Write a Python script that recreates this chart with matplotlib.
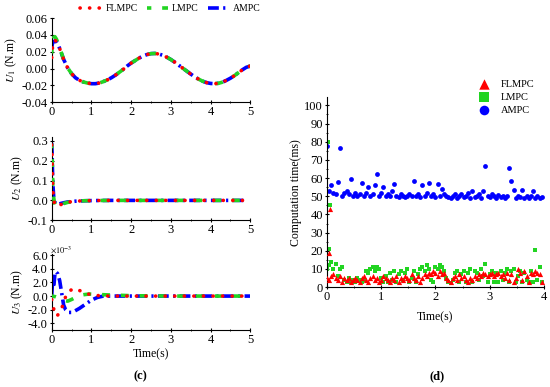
import numpy as np
import matplotlib.pyplot as plt
from matplotlib.lines import Line2D
from matplotlib.ticker import MultipleLocator, FormatStrFormatter

plt.rcParams['font.family'] = ['Liberation Serif', 'DejaVu Serif']
plt.rcParams['mathtext.fontset'] = 'stix'

RED = '#ff0000'
GREEN = '#22d422'
BLUE = '#0000ff'

# ---- panel (c) data ----
# U1: per-series start, shared tail
u1_t_start = [0.0, 0.02, 0.05, 0.08, 0.12, 0.16, 0.2]
u1_fl_start = [0.013, 0.025, 0.032, 0.034, 0.032, 0.028, 0.024]
u1_l_start = [0.018, 0.030, 0.037, 0.038, 0.035, 0.030, 0.025]
u1_a_start = [0.025, 0.030, 0.032, 0.033, 0.032, 0.029, 0.024]
u1_t_tail = [0.3, 0.4, 0.5, 0.6, 0.7, 0.8, 0.9, 1.0, 1.1, 1.2, 1.3, 1.4, 1.5,
             1.6, 1.7, 1.8, 1.9, 2.0, 2.1, 2.2, 2.3, 2.4, 2.5, 2.6, 2.7, 2.8,
             2.9, 3.0, 3.1, 3.2, 3.3, 3.4, 3.5, 3.6, 3.7, 3.8, 3.9, 4.0, 4.1,
             4.2, 4.3, 4.4, 4.5, 4.6, 4.7, 4.8, 4.9, 5.0]
u1_tail = [0.011, 0.001, -0.006, -0.011, -0.014, -0.016, -0.0172, -0.018,
           -0.018, -0.0172, -0.0155, -0.0135, -0.011, -0.008, -0.0045, -0.001,
           0.003, 0.0065, 0.0095, 0.0125, 0.015, 0.0167, 0.0178, 0.018, 0.0173,
           0.0158, 0.0135, 0.0108, 0.0076, 0.004, 0.0005, -0.003, -0.0065,
           -0.0098, -0.0126, -0.015, -0.0167, -0.0177, -0.018, -0.0175, -0.0162,
           -0.014, -0.0115, -0.0085, -0.005, -0.0015, 0.0015, 0.003]

# U2
u2_t = [0.0, 0.01, 0.02, 0.03, 0.05, 0.07, 0.1, 0.15, 0.2, 0.3, 0.4, 0.6,
        0.8, 1.0, 1.5, 2.0, 2.5, 3.0, 3.5, 4.0, 4.5, 4.9]
u2_fl = [0.28, 0.22, 0.12, 0.05, 0.01, -0.015, -0.026, -0.03, -0.024, -0.015,
         -0.009, -0.004, -0.002, -0.001, 0, 0, 0, 0, 0, 0, 0, 0]
u2_l = [0.285, 0.23, 0.14, 0.06, 0.015, -0.012, -0.03, -0.035, -0.028, -0.016,
        -0.01, -0.004, -0.002, -0.001, 0, 0, 0, 0, 0, 0, 0, 0]
u2_a = [0.29, 0.24, 0.15, 0.08, 0.02, -0.005, -0.015, -0.02, -0.017, -0.012,
        -0.008, -0.004, -0.002, -0.001, 0, 0, 0, 0, 0, 0, 0, 0]

# U3 (x1e-3)
u3_fl_t = [0.0, 0.03, 0.06, 0.1, 0.15, 0.2, 0.25, 0.3, 0.35, 0.45, 0.58, 0.75,
           0.95, 1.2, 1.5, 2.0, 3.0, 4.0, 5.0]
u3_fl = [-0.5, -1.1, -2.2, -2.9, -2.8, -2.4, -1.8, -1.0, -0.1, 0.8, 1.1, 0.7,
         0.25, 0.05, 0, 0, 0, 0, 0]
u3_l_t = [0.0, 0.1, 0.2, 0.3, 0.4, 0.5, 0.6, 0.7, 0.8, 0.95, 1.1, 1.3, 1.5,
          1.8, 2.0, 3.0, 4.0, 5.0]
u3_l = [0, -0.1, -0.3, -0.6, -0.75, -0.5, -0.2, 0.1, 0.2, 0.3, 0.25, 0.2, 0.15,
        0.1, 0.05, 0, 0, 0]
u3_a_t = [0.0, 0.02, 0.05, 0.08, 0.1, 0.15, 0.2, 0.25, 0.3, 0.35, 0.42, 0.5,
          0.58, 0.7, 0.85, 1.0, 1.15, 1.3, 2.0, 3.0, 4.0, 5.0]
u3_a = [0, 2.0, 1.2, 3.2, 3.6, 3.3, 2.3, 0.5, -1.3, -2.0, -2.4, -2.4, -2.2,
        -1.8, -1.2, -0.6, -0.2, 0, 0, 0, 0, 0]

# ---- panel (d) data ----
time_d = np.arange(100) * 0.04
ampc_ms = [77.5, 53, 56, 52, 51, 58, 76.5, 50, 52, 53, 51, 59.5, 50, 52, 50, 51,
           57.5, 50, 52, 55, 50, 51, 56, 62, 50, 52, 55, 50, 51, 50, 53, 56.5,
           50, 49.5, 51, 50, 49.5, 50, 51, 50, 58.5, 50, 51, 49.5, 56, 50, 52,
           57.5, 50, 51, 49.5, 57, 50, 54, 51, 50, 49.5, 49, 50, 51.5, 49, 50,
           51, 49.5, 50, 52, 49, 53, 49.5, 50, 51, 49, 53, 66.5, 50, 49.5, 51,
           50, 49, 50.5, 49.5, 50, 49, 50, 65.5, 58.5, 53.5, 49, 50, 49.5, 53.5,
           49, 50, 49, 50, 53, 49, 50, 49, 49.5]
lmpc_start_t = [0.02, 0.04, 0.06]
lmpc_start = [80, 21, 45]
lmpc_ms = [10, 12, 14, 10, 13, 6, 10, 11, 4, 3, 5, 3, 4, 3, 5, 4, 3, 4, 9, 8,
           10, 11, 9, 11, 10, 5, 3, 6, 3, 8, 4, 9, 3, 7, 9, 4, 8, 10, 3, 5, 9,
           3, 7, 10, 11, 9, 12, 10, 4, 3, 11, 10, 12, 11, 9, 5, 3, 2.5, 4, 8, 9,
           3, 7, 9, 3, 8, 10, 3, 9, 8, 4, 10, 6, 13, 3, 7, 9, 3, 8, 3, 9, 4, 8,
           10, 3, 9, 10, 3, 6, 9, 3, 8, 4, 3, 9, 3, 20.5, 4, 11, 3]
flmpc_start_t = [0.03, 0.05]
flmpc_start = [19, 43]
flmpc_ms = [5, 4, 6, 7, 5, 4, 6, 3, 5, 4, 5, 3, 4, 5, 4, 3, 5, 6, 4, 3, 5, 6,
            4, 5, 3, 4, 6, 5, 4, 3, 5, 4, 6, 3, 5, 4, 6, 5, 4, 7, 5, 4, 6, 3,
            5, 7, 6, 8, 7, 9, 8, 6, 9, 7, 8, 5, 4, 3, 5, 6, 4, 7, 5, 6, 4, 3,
            5, 4, 6, 5, 7, 6, 8, 7, 6, 7, 8, 6, 7, 8, 6, 7, 5, 8, 4, 7, 3, 5,
            10, 8, 4, 9, 6, 3, 8, 7, 9, 8, 7, 3]

fig = plt.figure(figsize=(5.5, 3.87), dpi=100)

ax1 = fig.add_axes([0.094, 0.736, 0.361, 0.217])
ax2 = fig.add_axes([0.094, 0.431, 0.361, 0.215])
ax3 = fig.add_axes([0.094, 0.147, 0.361, 0.197])
axd = fig.add_axes([0.5945, 0.258, 0.3945, 0.491])

# red dots on top, green dashes in the middle, blue dash-dot underneath
styles = dict(
    fl=dict(color=RED, lw=2.6, linestyle=(0, (0.05, 2.6)),
            dash_capstyle='round', zorder=4),
    l=dict(color=GREEN, lw=2.6, linestyle=(1.0, (2.2, 3.0)), zorder=3),
    a=dict(color=BLUE, lw=2.6, linestyle=(0, (3.0, 1.2, 0.6, 1.2)), zorder=2),
)

ax1.plot(u1_t_start + u1_t_tail, u1_a_start + u1_tail, **styles['a'])
ax1.plot(u1_t_start + u1_t_tail, u1_l_start + u1_tail, **styles['l'])
ax1.plot(u1_t_start + u1_t_tail, u1_fl_start + u1_tail, **styles['fl'])

ax2.plot(u2_t, u2_a, **styles['a'])
ax2.plot(u2_t, u2_l, **styles['l'])
ax2.plot(u2_t, u2_fl, **styles['fl'])

ax3.plot(u3_a_t, u3_a, **styles['a'])
ax3.plot(u3_l_t, u3_l, **styles['l'])
ax3.plot(u3_fl_t, u3_fl, **styles['fl'])

for ax in (ax1, ax2, ax3):
    ax.set_xlim(0, 5)
    ax.spines['top'].set_visible(False)
    ax.spines['right'].set_visible(False)
    ax.xaxis.set_major_locator(MultipleLocator(1))
    ax.xaxis.set_minor_locator(MultipleLocator(0.5))
    ax.tick_params(direction='inout', labelsize=9, length=3.5, width=0.8, pad=1)
    ax.tick_params(which='minor', direction='inout', length=2)

ax1.set_ylim(-0.04, 0.06)
ax1.yaxis.set_major_locator(MultipleLocator(0.02))
ax1.yaxis.set_major_formatter(FormatStrFormatter('%.2f'))
ax1.set_ylabel('$U_1$ (N.m)', fontsize=8.5, labelpad=2)

ax2.set_ylim(-0.1, 0.32)
ax2.yaxis.set_major_locator(MultipleLocator(0.1))
ax2.yaxis.set_major_formatter(FormatStrFormatter('%.1f'))
ax2.set_ylabel('$U_2$ (N.m)', fontsize=8.5, labelpad=2)

ax3.set_ylim(-5, 6.2)
ax3.set_yticks([-4, -2, 0, 2, 4, 6])
ax3.yaxis.set_major_formatter(FormatStrFormatter('%.1f'))
ax3.set_ylabel('$U_3$ (N.m)', fontsize=8.5, labelpad=2)
ax3.text(-0.01, 1.02, r'$\times10^{-3}$', transform=ax3.transAxes, fontsize=6)
ax3.set_xlabel('Time(s)', fontsize=8.5, labelpad=2)

leg_handles = [Line2D([], [], **styles['fl']), Line2D([], [], **styles['l']),
               Line2D([], [], **styles['a'])]
fig.legend(leg_handles, ['FLMPC', 'LMPC', 'AMPC'], loc='center',
           bbox_to_anchor=(0.31, 0.978), ncol=3, frameon=False, fontsize=7,
           handlelength=2.2, columnspacing=0.9, handletextpad=0.4)

# ---- panel (d) ----
axd.scatter(flmpc_start_t + list(time_d), flmpc_start + flmpc_ms, marker='^',
            s=14, color=RED, linewidths=0, label='FLMPC', zorder=3)
axd.scatter(lmpc_start_t + list(time_d), lmpc_start + lmpc_ms, marker='s',
            s=11, color=GREEN, linewidths=0, label='LMPC', zorder=2)
axd.scatter(time_d, ampc_ms, marker='o', s=12, color=BLUE, linewidths=0,
            label='AMPC', zorder=2)
axd.set_xlim(0, 4)
axd.set_ylim(0, 104.5)
axd.xaxis.set_major_locator(MultipleLocator(1))
axd.xaxis.set_minor_locator(MultipleLocator(0.5))
axd.yaxis.set_major_locator(MultipleLocator(10))
axd.yaxis.set_minor_locator(MultipleLocator(5))
axd.spines['top'].set_visible(False)
axd.spines['right'].set_visible(False)
axd.tick_params(direction='inout', labelsize=9, length=3.5, width=0.8, pad=1)
axd.tick_params(which='minor', direction='inout', length=2)
axd.set_xlabel('Time(s)', fontsize=8.5, labelpad=6)
axd.set_ylabel('Computation time(ms)', fontsize=8.5, labelpad=2)
axd.legend(loc='upper right', bbox_to_anchor=(1.0, 1.14), frameon=False,
           fontsize=7.5, markerscale=2.0, handletextpad=0.6, labelspacing=0.35)

fig.text(0.255, 0.02, '(c)', fontsize=9, fontweight='bold', ha='center')
fig.text(0.795, 0.02, '(d)', fontsize=9, fontweight='bold', ha='center')

fig.savefig('out.png', dpi=100)
